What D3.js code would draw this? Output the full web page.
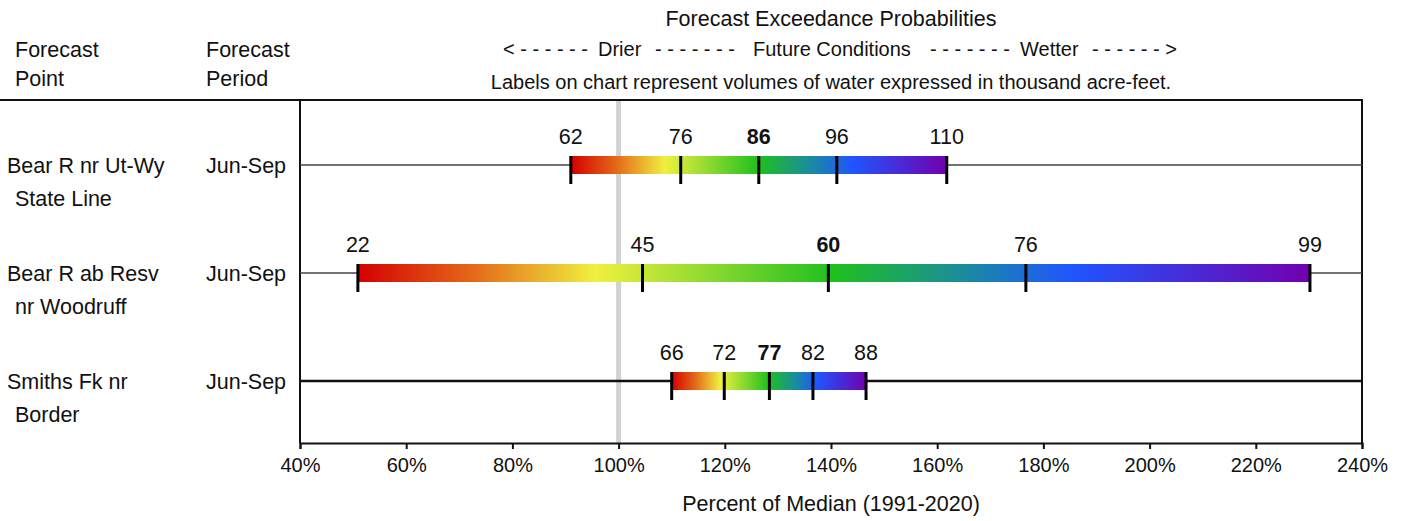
<!DOCTYPE html>
<html>
<head>
<meta charset="utf-8">
<script src="https://cdn.jsdelivr.net/npm/d3@7"></script>
<style>
  html, body { margin: 0; padding: 0; background: #fff; }
  svg { display: block; font-family: "Liberation Sans", Arial, sans-serif; }
  text { fill: #111; }
</style>
</head>
<body>
<svg id="chart" width="1410" height="521"></svg>
<script>
// ---- data ----
const pointLine1 = ["Bear R nr Ut-Wy", "Bear R ab Resv", "Smiths Fk nr"];
const pointLine2 = ["State Line", "nr Woodruff", "Border"];
const periods = ["Jun-Sep", "Jun-Sep", "Jun-Sep"];
// volumes (thousand acre-feet) at 90/70/50/30/10 % exceedance
const volumes = [
  [62, 76, 86, 96, 110],
  [22, 45, 60, 76, 99],
  [66, 72, 77, 82, 88]
];
// same points as percent of median
const pctOfMedian = [
  [91.0, 111.7, 126.4, 141.1, 161.8],
  [50.9, 104.5, 139.5, 176.7, 230.2],
  [110.0, 119.9, 128.4, 136.6, 146.6]
];
const xTicks = [40, 60, 80, 100, 120, 140, 160, 180, 200, 220, 240];
const medianLine = 100;

// ---- layout ----
const svg = d3.select("#chart");
const plotL = 300, plotR = 1362, plotT = 100, plotB = 443;
const FS = 21.5, FSS = 20;
const x = d3.scaleLinear().domain([40, 240]).range([plotL, plotR]);
const y = d3.scalePoint().domain(d3.range(pointLine1.length)).range([165, 381]);

// gradient
const stops = [
  [0, "#d40000"], [0.12, "#e46818"], [0.25, "#f0f040"], [0.5, "#1ec01e"],
  [0.64, "#1a8aa2"], [0.75, "#1f55ff"], [1, "#7200ae"]
];
const grad = svg.append("defs").append("linearGradient").attr("id", "spec")
  .attr("x1", "0%").attr("x2", "100%").attr("y1", "0%").attr("y2", "0%");
grad.selectAll("stop").data(stops).join("stop")
  .attr("offset", d => d[0]).attr("stop-color", d => d[1]);

// header
svg.append("text").attr("x", 831).attr("y", 26).attr("text-anchor", "middle")
  .attr("font-size", FS).text("Forecast Exceedance Probabilities");
const hdr = [
  ["< - - - - - -", 503], ["Drier", 598], ["- - - - - - -", 655],
  ["Future Conditions", 753], ["- - - - - - -", 930], ["Wetter", 1020], ["- - - - - - >", 1092]
];
svg.selectAll("text.hdr").data(hdr).join("text").attr("class", "hdr")
  .attr("x", d => d[1]).attr("y", 56).attr("font-size", FSS)
  .attr("xml:space", "preserve").style("white-space", "pre").text(d => d[0]);
svg.append("text").attr("x", 831).attr("y", 89).attr("text-anchor", "middle")
  .attr("font-size", FSS).text("Labels on chart represent volumes of water expressed in thousand acre-feet.");
svg.append("text").attr("x", 15).attr("y", 57).attr("font-size", FS).text("Forecast");
svg.append("text").attr("x", 15).attr("y", 86).attr("font-size", FS).text("Point");
svg.append("text").attr("x", 206).attr("y", 57).attr("font-size", FS).text("Forecast");
svg.append("text").attr("x", 206).attr("y", 86).attr("font-size", FS).text("Period");

// frame
svg.append("line").attr("x1", 0).attr("x2", plotR + 1).attr("y1", plotT).attr("y2", plotT)
  .attr("stroke", "#111").attr("stroke-width", 2);
svg.append("line").attr("x1", plotL).attr("x2", plotL).attr("y1", plotT).attr("y2", plotB)
  .attr("stroke", "#111").attr("stroke-width", 2);
svg.append("line").attr("x1", plotR).attr("x2", plotR).attr("y1", plotT).attr("y2", plotB)
  .attr("stroke", "#111").attr("stroke-width", 2);

// median line
svg.append("line").attr("x1", x(medianLine)).attr("x2", x(medianLine))
  .attr("y1", plotT + 1).attr("y2", plotB).attr("stroke", "#d2d2d2").attr("stroke-width", 5);

// x axis
const xAxis = d3.axisBottom(x).tickValues(xTicks).tickFormat(d => d + "%").tickSizeOuter(0).tickSize(6).tickPadding(9);
const gx = svg.append("g").attr("transform", `translate(0,${plotB})`).call(xAxis);
gx.select(".domain").attr("stroke", "#111").attr("stroke-width", 2);
gx.selectAll(".tick line").attr("stroke", "#111").attr("stroke-width", 2);
gx.selectAll(".tick text").attr("font-size", FSS).attr("fill", "#111")
  .attr("font-family", "Liberation Sans, Arial, sans-serif");
svg.append("text").attr("x", 831).attr("y", 511).attr("text-anchor", "middle")
  .attr("font-size", FS).text("Percent of Median (1991-2020)");

// rows
const rows = svg.selectAll("g.row").data(d3.range(pointLine1.length)).join("g").attr("class", "row");
rows.append("line").attr("x1", plotL).attr("x2", plotR).attr("y1", i => y(i)).attr("y2", i => y(i))
  .attr("stroke", i => i === 2 ? "#111" : "#444").attr("stroke-width", i => i === 2 ? 2.5 : 1.5);
rows.append("text").attr("x", 7).attr("y", i => y(i) + 8).attr("font-size", FS).text(i => pointLine1[i]);
rows.append("text").attr("x", 15).attr("y", i => y(i) + 41).attr("font-size", FS).text(i => pointLine2[i]);
rows.append("text").attr("x", 206).attr("y", i => y(i) + 8).attr("font-size", FS).text(i => periods[i]);
rows.append("rect")
  .attr("x", i => x(pctOfMedian[i][0])).attr("width", i => x(pctOfMedian[i][4]) - x(pctOfMedian[i][0]))
  .attr("y", i => y(i) - 9).attr("height", 18).attr("fill", "url(#spec)");
rows.each(function(i) {
  const g = d3.select(this);
  const pts = pctOfMedian[i].map((p, k) => ({ p, v: volumes[i][k], k }));
  g.selectAll("line.tk").data(pts).join("line").attr("class", "tk")
    .attr("x1", d => x(d.p)).attr("x2", d => x(d.p))
    .attr("y1", y(i) - 9).attr("y2", y(i) + 19).attr("stroke", "#000").attr("stroke-width", 3);
  g.selectAll("text.vl").data(pts).join("text").attr("class", "vl")
    .attr("x", d => x(d.p)).attr("y", y(i) - 21).attr("text-anchor", "middle")
    .attr("font-size", FS).attr("font-weight", d => d.k === 2 ? "bold" : "normal").text(d => d.v);
});
</script>
</body>
</html>
